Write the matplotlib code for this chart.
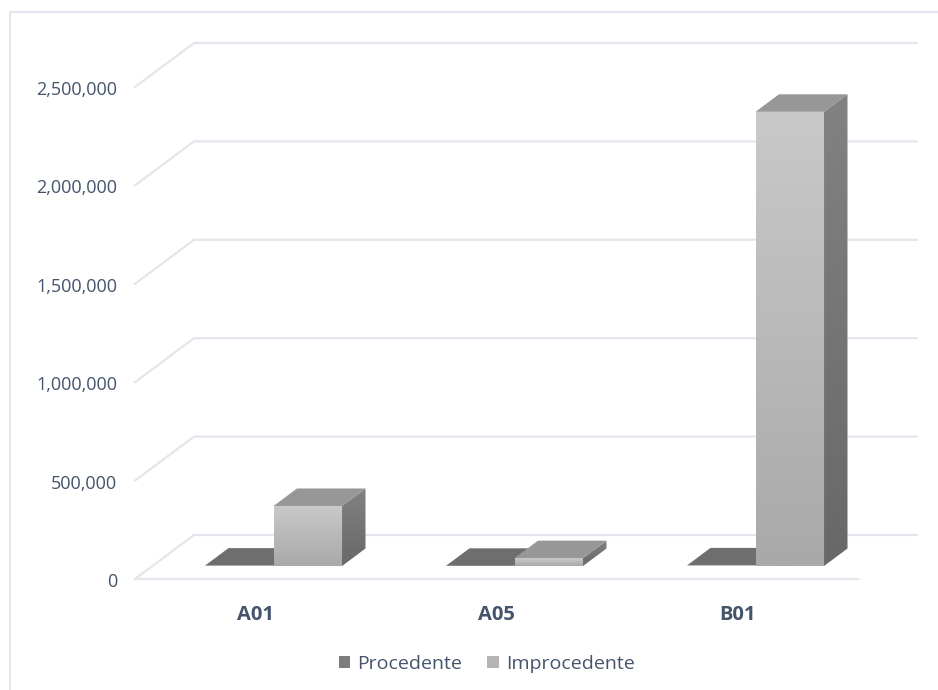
#!/usr/bin/python
import numpy as np
import matplotlib.pyplot as plt
from matplotlib.lines import Line2D
from matplotlib.patches import Patch, Polygon
from matplotlib.transforms import ScaledTranslation

plt.rcParams['font.family'] = ['Open Sans', 'DejaVu Sans']

categories = ['A01', 'A05', 'B01']
procedente = [2000, 1000, 3000]
improcedente = [305000, 40000, 2308000]
yticks = [0, 500000, 1000000, 1500000, 2000000, 2500000]
ylabels = ['0', '500,000', '1,000,000', '1,500,000', '2,000,000', '2,500,000']

W, H = 938, 690
TEXT = '#44546a'
GRID = '#e3e6ec'

fig = plt.figure(figsize=(W / 100, H / 100), dpi=100, facecolor='white')
# front plane of the fake 3d box
ax = fig.add_axes([135 / W, 1 - 579 / H, 723 / W, 492 / H])

# depth of the box, in data units
depth_x = 59 / 241
depth_y = 44 / 492 * 2500000
bar_w = 68.5 / 241
near, far = 13 / 44, 30.5 / 44


def skew(x, y, d):
    return x + d * depth_x, y + d * depth_y


def gradient(poly, top, bottom, ymin, ymax, zorder):
    c0 = np.array(plt.matplotlib.colors.to_rgb(top))
    c1 = np.array(plt.matplotlib.colors.to_rgb(bottom))
    t = np.linspace(0, 1, 128)[:, None, None]
    img = c0 * (1 - t) + c1 * t
    xs = [p[0] for p in poly]
    im = ax.imshow(img, extent=(min(xs), max(xs), ymin, ymax), aspect='auto',
                   origin='upper', zorder=zorder, interpolation='bilinear')
    patch = Polygon(poly, closed=True, transform=ax.transData)
    im.set_clip_path(patch)


def box(x0, value, front_top, front_bot, side_top, side_bot, top_col, zorder):
    x1 = x0 + bar_w
    fl = skew(x0, 0, near)
    fr = skew(x1, 0, near)
    tl = skew(x0, value, near)
    tr = skew(x1, value, near)
    bl = skew(x1, 0, far)
    br = skew(x1, value, far)
    tb = skew(x0, value, far)
    gradient([tr, br, bl, fr], side_top, side_bot, min(bl[1], fr[1]), br[1], zorder)
    ax.add_patch(Polygon([tl, tr, br, tb], closed=True, fc=top_col, ec='none', zorder=zorder))
    gradient([tl, tr, fr, fl], front_top, front_bot, fl[1], tl[1], zorder + 0.1)


# walls
for v in yticks:
    a = skew(0, v, 0)
    b = skew(0, v, 1)
    c = skew(3, v, 1)
    ax.add_line(Line2D([a[0], b[0], c[0]], [a[1], b[1], c[1]], color=GRID, lw=1.6, zorder=1, clip_on=False))
ax.add_line(Line2D([0, 3], [0, 0], color=GRID, lw=1.6, zorder=1, clip_on=False))

for i in range(len(categories)):
    left = i + 0.5 - 67.9 / 241
    # flat Procedente bar
    x0 = left
    x1 = left + bar_w
    ax.add_patch(Polygon([skew(x0, procedente[i], near), skew(x1, procedente[i], near),
                          skew(x1, procedente[i], far), skew(x0, procedente[i], far)],
                         closed=True, fc='#6e6e6e', ec='none', zorder=3))
    box(left + bar_w, improcedente[i], '#c9c9c9', '#a9a9a9', '#828282', '#686868', '#979797', 4)

ax.set_xlim(0, 3)
ax.set_ylim(0, 2500000)
ax.patch.set_visible(False)
for s in ax.spines.values():
    s.set_visible(False)

ax.set_yticks(yticks)
ax.set_yticklabels(ylabels, fontsize=13, color=TEXT)
ax.set_xticks([i + 0.5 for i in range(len(categories))])
ax.set_xticklabels(categories, fontsize=14.5, fontweight='bold', color=TEXT)
ax.tick_params(axis='y', length=0, pad=13)
ax.tick_params(axis='x', length=0, pad=18.5)

down = ScaledTranslation(0, -1 / 100, fig.dpi_scale_trans)
for lab in ax.get_yticklabels():
    lab.set_transform(lab.get_transform() + down)

handles = [Patch(fc='#7d7d7d', ec='none', label='Procedente'),
           Patch(fc='#b4b4b4', ec='none', label='Improcedente')]
leg = fig.legend(handles=handles, loc='center', bbox_to_anchor=(486.5 / W, 1 - 664 / H), ncol=2,
                 frameon=False, fontsize=14, handlelength=0.6, handleheight=0.6,
                 handletextpad=0.35, columnspacing=1.3, labelcolor=TEXT)

# outer frame of the chart object
fig.add_artist(Line2D([10 / W, 10 / W, 1], [0, 1 - 12 / H, 1 - 12 / H], color=GRID, lw=1.6,
                      transform=fig.transFigure))

fig.savefig('out.png', dpi=100)
